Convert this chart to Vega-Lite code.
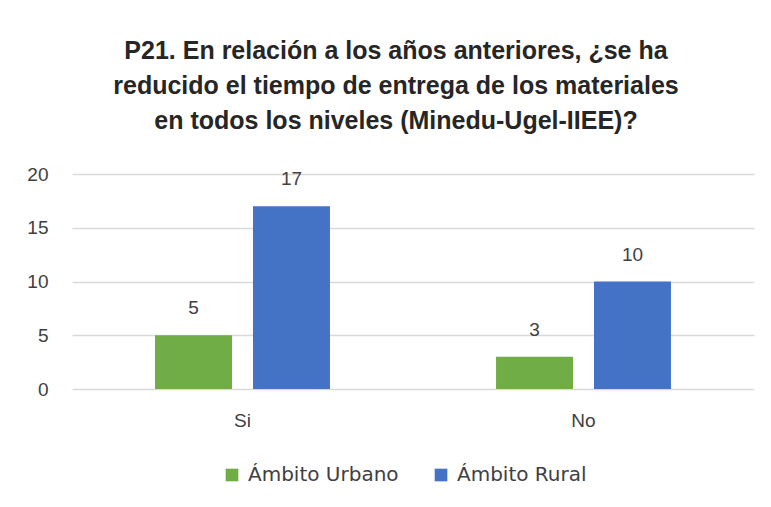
{
  "$schema": "https://vega.github.io/schema/vega-lite/v6.json",
  "width": 682,
  "height": 215,
  "autosize": {"type": "none"},
  "padding": {"left": 72, "top": 174, "right": 17, "bottom": 118},
  "background": "white",
  "title": {
    "text": ["P21. En relación  a los años anteriores, ¿se ha", "reducido el tiempo de entrega de los materiales", "en todos los niveles (Minedu-Ugel-IIEE)?"],
    "font": "Liberation Sans",
    "fontSize": 25,
    "fontWeight": "bold",
    "color": "#262626",
    "lineHeight": 35,
    "anchor": "middle",
    "dx": -17,
    "offset": 31
  },
  "config": {"view": {"stroke": null}},
  "data": {
    "values": [
      {"respuesta": "Si", "ambito": "Ámbito Urbano", "valor": 5},
      {"respuesta": "Si", "ambito": "Ámbito Rural", "valor": 17},
      {"respuesta": "No", "ambito": "Ámbito Urbano", "valor": 3},
      {"respuesta": "No", "ambito": "Ámbito Rural", "valor": 10}
    ]
  },
  "encoding": {
    "x": {
      "field": "respuesta",
      "type": "nominal",
      "sort": ["Si", "No"],
      "scale": {"paddingInner": 0.487, "paddingOuter": 0.2435},
      "axis": {
        "title": null,
        "labelAngle": 0,
        "domain": false,
        "ticks": false,
        "grid": false,
        "labelPadding": 22,
        "labelFontSize": 19,
        "labelColor": "#404040",
        "labelFont": "Liberation Sans"
      }
    },
    "xOffset": {
      "field": "ambito",
      "type": "nominal",
      "sort": ["Ámbito Urbano", "Ámbito Rural"],
      "scale": {"paddingInner": 0.214, "paddingOuter": 0}
    },
    "y": {
      "field": "valor",
      "type": "quantitative",
      "scale": {"domain": [0, 20]},
      "axis": {
        "title": null,
        "values": [0, 5, 10, 15, 20],
        "domain": false,
        "ticks": false,
        "labelPadding": 24,
        "labelFontSize": 19,
        "labelColor": "#404040",
        "labelFont": "Liberation Sans",
        "gridColor": "#d9d9d9",
        "gridWidth": 1.5
      }
    }
  },
  "layer": [
    {
      "mark": {"type": "bar"},
      "encoding": {
        "color": {
          "field": "ambito",
          "type": "nominal",
          "sort": ["Ámbito Urbano", "Ámbito Rural"],
          "scale": {"domain": ["Ámbito Urbano", "Ámbito Rural"], "range": ["#70AD47", "#4472C4"]},
          "legend": {
            "title": null,
            "orient": "none",
            "direction": "horizontal",
            "legendX": 150,
            "legendY": 291,
            "symbolType": "square",
            "symbolSize": 160,
            "symbolStrokeWidth": 0,
            "labelFontSize": 20,
            "labelFont": "DejaVu Sans",
            "labelColor": "#404040",
            "labelOffset": 6,
            "columnPadding": 32
          }
        }
      }
    },
    {
      "mark": {"type": "text", "dy": -27, "fontSize": 19, "font": "Liberation Sans", "color": "#404040"},
      "encoding": {"text": {"field": "valor", "type": "quantitative"}}
    }
  ]
}
